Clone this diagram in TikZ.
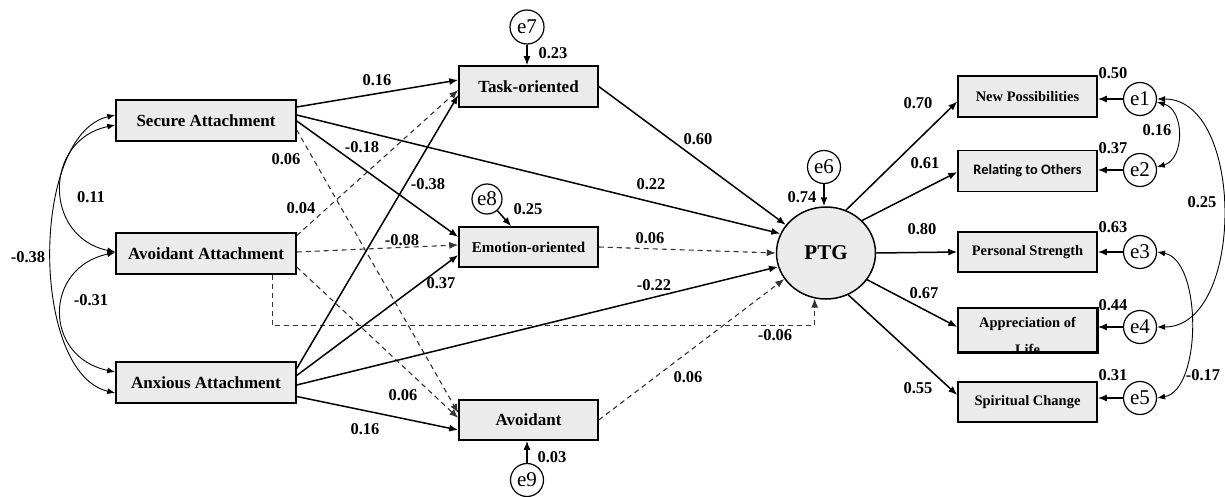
\documentclass[tikz,border=0pt]{standalone}
\usepackage{fontspec}
\setmainfont{Liberation Serif}
\newfontfamily\calib{Carlito}
\usetikzlibrary{arrows.meta,shapes.geometric,calc}
\definecolor{boxfill}{HTML}{EBEBEB}
\begin{document}
\begin{tikzpicture}[x=1pt,y=-1pt,
  lbox/.style={draw,line width=1.5pt,fill=boxfill,inner sep=0pt,font=\bfseries\fontsize{17}{19}\selectfont},
  rbox/.style={draw,line width=1.5pt,fill=boxfill,inner sep=0pt,minimum width=139pt,font=\bfseries\fontsize{14.5}{16}\selectfont},
  err/.style={circle,draw,line width=1.2pt,fill=white,minimum size=33pt,inner sep=0pt,font=\fontsize{21}{22}\selectfont},
  lab/.style={font=\bfseries\fontsize{16.5}{18}\selectfont,inner sep=0pt},
  sol/.style={line width=1.5pt,-{Latex[length=9pt,width=7pt]}},
  dsh/.style={line width=1.1pt,black!80,dash pattern=on 5pt off 4pt,-{Latex[length=9pt,width=7pt]}},
  cov/.style={line width=0.9pt,{Latex[length=8pt,width=6pt]}-{Latex[length=8pt,width=6pt]}}
]
\useasboundingbox (0,0) rectangle (1225,497);

% exogenous boxes
\node[lbox,minimum width=180pt,minimum height=41pt] (sec) at (206,120.5) {Secure Attachment};
\node[lbox,minimum width=180pt,minimum height=41pt] (avatt) at (206,253.5) {Avoidant Attachment};
\node[lbox,minimum width=180pt,minimum height=41pt] (anx) at (206,382.5) {Anxious Attachment};

% mediators
\node[lbox,minimum width=139pt,minimum height=41pt] (task) at (528.5,86.5) {Task-oriented};
\node[lbox,minimum width=139pt,minimum height=40pt,font=\bfseries\fontsize{15}{17}\selectfont] (emo) at (528.5,247) {Emotion-oriented};
\node[lbox,minimum width=139pt,minimum height=40pt] (avoid) at (528.5,420) {Avoidant};

% PTG
\node[ellipse,draw,line width=1.5pt,fill=boxfill,minimum width=99pt,minimum height=92pt,inner sep=0pt,font=\bfseries\fontsize{21}{23}\selectfont] (ptg) at (826,253) {PTG};

% right boxes
\node[rbox,minimum height=41pt] (np) at (1027.5,96.5) {New Possibilities};
\node[rbox,minimum height=41pt,font=\calib\bfseries\fontsize{14.4}{16}\selectfont] (ro) at (1027.5,171) {Relating to Others};
\node[rbox,minimum height=40pt] (ps) at (1027.5,252) {Personal Strength};
\node[rbox,minimum height=44pt] (al) at (1027.5,330) {};
\node[font=\bfseries\fontsize{14.5}{16}\selectfont,inner sep=0pt] (alt1) at (1027.5,324) {Appreciation of};
\begin{scope}
  \clip ($(al.south west)+(0.75,-0.75)$) rectangle ($(al.north east)+(-0.75,0.75)$);
  \node[font=\bfseries\fontsize{14.5}{16}\selectfont,inner sep=0pt] (alt2) at (1027.5,349) {Life};
\end{scope}
\draw[line width=1.5pt] (al.south west) rectangle (al.north east);
\node[rbox,minimum height=40pt] (sc) at (1027.5,402) {Spiritual Change};

% error terms
\node[err,minimum size=34pt] (e7) at (527,27) {e7};
\node[err,minimum size=30pt] (e8) at (487,199) {e8};
\node[err] (e9) at (527,480) {e9};
\node[err] (e6) at (824,167) {e6};
\node[err] (e1) at (1140,99) {e1};
\node[err] (e2) at (1140,170) {e2};
\node[err] (e3) at (1140,252) {e3};
\node[err] (e4) at (1140,327) {e4};
\node[err] (e5) at (1140,398) {e5};

% paths from secure
\draw[sol] ($(sec.east)+(0,-13.5)$) -- ($(task.west)+(0,-6.5)$);
\draw[sol] ($(sec.east)+(0,-5.5)$) -- (ptg.157);
\draw[sol] ($(sec.east)+(0,0.5)$) -- ($(emo.west)+(0,-10)$);
\draw[dsh] ($(sec.east)+(0,9.5)$) -- ($(avoid.west)+(0,-7)$);

% paths from avoidant attachment
\draw[dsh] ($(avatt.east)+(0,-18)$) -- ($(task.west)+(0,3.5)$);
\draw[dsh] ($(avatt.east)+(0,-1.5)$) -- ($(emo.west)+(0,-2)$);
\draw[dsh] ($(avatt.east)+(0,13.5)$) -- ($(avoid.west)+(0,-2)$);
\draw[dsh] ($(avatt.south west)+(157,0)$) -- ++(0,51) -| (ptg.256);

% paths from anxious
\draw[sol] ($(anx.east)+(0,-14)$) -- ($(task.west)+(0,8.5)$);
\draw[sol] ($(anx.east)+(0,-7)$) -- ($(emo.west)+(0,8)$);
\draw[sol] ($(anx.east)+(0,2.5)$) -- (ptg.196);
\draw[sol] ($(anx.east)+(0,14)$) -- ($(avoid.west)+(0,10)$);

% mediators to PTG
\draw[sol] (task.east) -- (ptg.145);
\draw[dsh] (emo.east) -- (ptg.west);
\draw[dsh] (avoid.east) -- (ptg.212);

% error arrows
\draw[sol] (e7) -- (e7 |- task.north);
\draw[sol] (e8) -- ($(emo.north west)+(53,0)$);
\draw[sol] (e9) -- (e9 |- avoid.south);
\draw[sol] (e6) -- (e6 |- ptg.north);

% PTG to indicators
\draw[sol] (ptg.65) -- ($(np.west)+(0,5)$);
\draw[sol] (ptg.42) -- ($(ro.west)+(0,1)$);
\draw[sol] (ptg.east) -- (ps.west);
\draw[sol] (ptg.-33) -- ($(al.west)+(0,-3)$);
\draw[sol] (ptg.-62) -- ($(sc.west)+(0,-7)$);

\draw[sol] (e1) -- (e1 -| np.east);
\draw[sol] (e2) -- (e2 -| ro.east);
\draw[sol] (e3) -- (e3 -| ps.east);
\draw[sol] (e4) -- (e4 -| al.east);
\draw[sol] (e5) -- (e5 -| sc.east);

% covariances left
\draw[cov] ($(sec.west)+(0,-5.5)$) .. controls +(-85,20) and +(-85,-20) .. ($(anx.west)+(0,10.5)$);
\draw[cov] ($(sec.west)+(0,4.5)$) .. controls +(-72,15) and +(-72,-15) .. ($(avatt.west)+(0,-1.5)$);
\draw[cov] ($(avatt.west)+(0,-1)$) .. controls +(-72,15) and +(-72,-15) .. ($(anx.west)+(0,-10.5)$);

% covariances right
\draw[cov] (e1.-10) .. controls +(28,8) and +(28,-8) .. (e2.10);
\draw[cov] (e1.east) .. controls +(88,0) and +(88,0) .. (e4.east);
\draw[cov] (e3.east) .. controls +(45,8) and +(45,-8) .. (e5.east);

% labels
\node[lab] (l01) at (377,80) {0.16};
\node[lab] (l02) at (362,147) {-0.18};
\node[lab] (l03) at (286,159) {0.06};
\node[lab] (l04) at (301,208) {0.04};
\node[lab] (l05) at (91,197) {0.11};
\node[lab] (l06) at (28,257) {-0.38};
\node[lab] (l07) at (91,300) {-0.31};
\node[lab] (l08) at (428,184) {-0.38};
\node[lab] (l09) at (651,184) {0.22};
\node[lab] (l10) at (402,240) {-0.08};
\node[lab] (l11) at (650,238) {0.06};
\node[lab] (l12) at (654,285) {-0.22};
\node[lab] (l13) at (441,283) {0.37};
\node[lab] (l14) at (403,395) {0.06};
\node[lab] (l15) at (365,429) {0.16};
\node[lab] (l16) at (552,457) {0.03};
\node[lab] (l17) at (553,53) {0.23};
\node[lab] (l18) at (528,209) {0.25};
\node[lab] (l19) at (698,139) {0.60};
\node[lab] (l20) at (802,197) {0.74};
\node[lab] (l21) at (775,335) {-0.06};
\node[lab] (l22) at (688,377) {0.06};
\node[lab] (l23) at (918,103) {0.70};
\node[lab] (l24) at (925,163) {0.61};
\node[lab] (l25) at (922,229) {0.80};
\node[lab] (l26) at (924,293) {0.67};
\node[lab] (l27) at (918,388) {0.55};
\node[lab] (l28) at (1113,73) {0.50};
\node[lab] (l29) at (1113,148) {0.37};
\node[lab] (l30) at (1113,227) {0.63};
\node[lab] (l31) at (1113,305) {0.44};
\node[lab] (l32) at (1113,375) {0.31};
\node[lab] (l33) at (1157,130) {0.16};
\node[lab] (l34) at (1202,202) {0.25};
\node[lab] (l35) at (1203,375) {-0.17};
\end{tikzpicture}
\end{document}
